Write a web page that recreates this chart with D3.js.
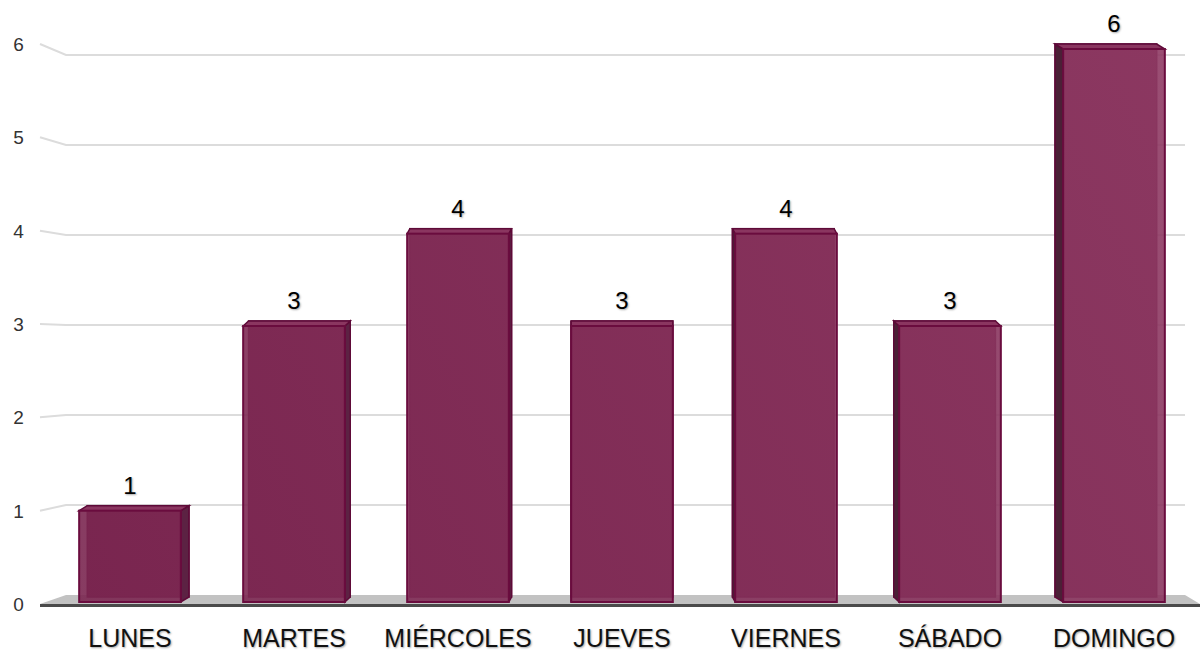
<!DOCTYPE html>
<html>
<head>
<meta charset="utf-8">
<script src="https://cdn.jsdelivr.net/npm/d3@7"></script>
<style>
  body { margin: 0; background: #fff; }
  .lbl { font-family: "Liberation Sans", Arial, sans-serif; text-shadow: 1px 1px 2px rgba(0,0,0,0.35); }
  .tick { font-family: "Liberation Sans", Arial, sans-serif; fill: #333; }
</style>
</head>
<body>
<div id="chart"></div>
<script>
// data
var dias = ["LUNES", "MARTES", "MIÉRCOLES", "JUEVES", "VIERNES", "SÁBADO", "DOMINGO"];
var valores = [1, 3, 4, 3, 4, 3, 6];
var ticksY = [0, 1, 2, 3, 4, 5, 6];

var width = 1202, height = 655;

var svg = d3.select("#chart").append("svg")
    .attr("width", width)
    .attr("height", height);

// bar colour gets a little lighter towards the right
var grad = svg.append("defs").append("linearGradient")
    .attr("id", "barFill")
    .attr("gradientUnits", "userSpaceOnUse")
    .attr("x1", 60).attr("y1", 600).attr("x2", 1180).attr("y2", 40);
grad.append("stop").attr("offset", "0%").attr("stop-color", "#7a2650");
grad.append("stop").attr("offset", "100%").attr("stop-color", "#8f3b64");

// Scales
var x = d3.scaleBand()
    .domain(dias)
    .range([48, 1196])
    .paddingInner(0.38)
    .paddingOuter(0.19);

// front plane (tick labels), bars, back wall (gridlines)
var yFront = d3.scaleLinear().domain([0, 6]).range([604, 44]);
var yBar = d3.scaleLinear().domain([0, 6]).range([603, 49]);
var yBack = d3.scaleLinear().domain([0, 6]).range([595, 55]);

var wallLeft = 66, wallRight = 1185, frontLeft = 40, frontRight = 1200;
var vx = x("JUEVES") + x.bandwidth() / 2;
var depthY = -5;
function depthX(cx) { return (vx - cx) * 0.0165; }

// gridlines on the back wall
var grid = svg.append("g");
grid.selectAll("path")
    .data(ticksY.filter(function(d) { return d > 0; }))
    .enter()
    .append("path")
    .attr("d", function(d) {
        return "M" + frontLeft + "," + yFront(d) + "L" + wallLeft + "," + yBack(d) + "L" + wallRight + "," + yBack(d);
    })
    .attr("fill", "none")
    .attr("stroke", "#dcdcdc")
    .attr("stroke-width", 2);

// tick labels
svg.append("g").selectAll("text")
    .data(ticksY)
    .enter()
    .append("text")
    .attr("class", "tick")
    .attr("x", 18.5)
    .attr("y", function(d) { return yFront(d) + 7; })
    .attr("text-anchor", "middle")
    .style("font-size", "19px")
    .text(function(d) { return d; });

// floor
svg.append("path")
    .attr("d", "M" + frontLeft + "," + yFront(0) + "L" + wallLeft + "," + yBack(0) + "L" + wallRight + "," + yBack(0) + "L" + frontRight + "," + yFront(0) + "Z")
    .attr("fill", "#c2c2c2");
svg.append("line")
    .attr("x1", frontLeft).attr("x2", frontRight)
    .attr("y1", yFront(0) + 1.5).attr("y2", yFront(0) + 1.5)
    .attr("stroke", "#4a4a4a")
    .attr("stroke-width", 3);

// bars
var bars = svg.append("g").selectAll("g")
    .data(dias.map(function(d, i) { return { dia: d, v: valores[i] }; }))
    .enter()
    .append("g");

bars.each(function(d) {
    var g = d3.select(this);
    var x0 = x(d.dia), x1 = x0 + x.bandwidth();
    var yt = yBar(d.v), yb = yBar(0) - 1;
    var dx = depthX((x0 + x1) / 2), dy = depthY;

    // back face
    g.append("rect")
        .attr("x", x0 + dx).attr("y", yt + dy)
        .attr("width", x1 - x0).attr("height", yb - yt)
        .attr("fill", "#6e1c45")
        .attr("stroke", "#5e0a38").attr("stroke-width", 1.5);

    // side face
    var sx = dx > 0 ? x1 : x0;
    g.append("path")
        .attr("d", "M" + sx + "," + yt + "L" + (sx + dx) + "," + (yt + dy) + "L" + (sx + dx) + "," + (yb + dy) + "L" + sx + "," + yb + "Z")
        .attr("fill", dx > 0 ? "#5c2243" : "#4a2036")
        .attr("stroke", "#5e0a38").attr("stroke-width", 1.5);

    // top face
    g.append("path")
        .attr("d", "M" + x0 + "," + yt + "L" + (x0 + dx) + "," + (yt + dy) + "L" + (x1 + dx) + "," + (yt + dy) + "L" + x1 + "," + yt + "Z")
        .attr("fill", "#8a3660")
        .attr("stroke", "#5e0a38").attr("stroke-width", 1.5);

    // front face
    g.append("rect")
        .attr("x", x0).attr("y", yt)
        .attr("width", x1 - x0).attr("height", yb - yt)
        .attr("fill", "url(#barFill)")
        .attr("fill-opacity", 0.9)
        .attr("stroke", "#6a0c3e").attr("stroke-width", 2);
});

// value labels
svg.append("g").selectAll("text")
    .data(valores)
    .enter()
    .append("text")
    .attr("class", "lbl")
    .attr("x", function(d, i) { return x(dias[i]) + x.bandwidth() / 2; })
    .attr("y", function(d) { return yBar(d) - 17; })
    .attr("text-anchor", "middle")
    .style("font-size", "24px")
    .attr("fill", "#000")
    .text(function(d) { return d; });

// category labels
svg.append("g").selectAll("text")
    .data(dias)
    .enter()
    .append("text")
    .attr("class", "lbl")
    .attr("x", function(d) { return x(d) + x.bandwidth() / 2; })
    .attr("y", 647)
    .attr("text-anchor", "middle")
    .style("font-size", "25px")
    .attr("fill", "#111")
    .text(function(d) { return d; });
</script>
</body>
</html>
